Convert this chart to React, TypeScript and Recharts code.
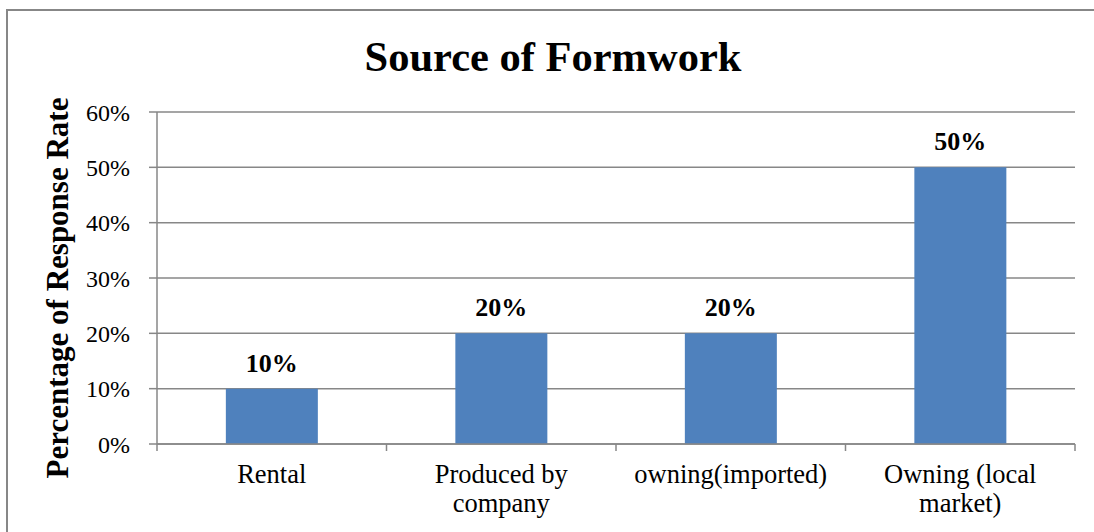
import React from "react";
import { BarChart, Bar, XAxis, YAxis, CartesianGrid, LabelList, Label } from "recharts";

const categories = ["Rental", "Produced by company", "owning(imported)", "Owning (local market)"];
const tickLines = [["Rental"], ["Produced by", "company"], ["owning(imported)"], ["Owning (local", "market)"]];
const responseRate = [10, 20, 20, 50];
const yTicks = [0, 10, 20, 30, 40, 50, 60];

const data = categories.map((c, i) => ({ name: c, value: responseRate[i] }));

const FONT = "'Liberation Serif', 'Times New Roman', serif";
const GRAY = "#878787";

const XTick = (props: any) => {
  const { x, y, payload, index } = props;
  const half = payload && payload.offset ? payload.offset : 114.75;
  const lines = tickLines[categories.indexOf(payload.value)] || [payload.value];
  return (
    <g>
      {index === 0 && <line x1={x - half} x2={x - half} y1={y} y2={y + 7} stroke={GRAY} strokeWidth={1.5} />}
      <line x1={x + half} x2={x + half} y1={y} y2={y + 7} stroke={GRAY} strokeWidth={1.5} />
      <text x={x} y={y} textAnchor="middle" fontFamily={FONT} fontSize={26.5} fill="#000">
        {lines.map((l: string, i: number) => (
          <tspan key={i} x={x} dy={i === 0 ? 39 : 29}>{l}</tspan>
        ))}
      </text>
    </g>
  );
};

const YLabel = (props: any) => {
  return (
    <text
      x={68}
      y={288}
      transform="rotate(-90, 68, 288)"
      textAnchor="middle"
      fontFamily={FONT}
      fontSize={31}
      fontWeight="bold"
      fill="#000"
    >
      Percentage of Response Rate
    </text>
  );
};

export default function App() {
  return (
    <div style={{ position: "absolute", left: 0, top: 0, width: 1094, height: 532, overflow: "hidden", background: "#fff" }}>
      <div style={{ position: "absolute", left: 6, top: 9, width: 1200, height: 700, borderLeft: `2px solid ${GRAY}`, borderTop: `2px solid ${GRAY}` }} />
      <div style={{ position: "absolute", left: 0, top: 0 }}>
        <BarChart width={1094} height={532} data={data} margin={{ top: 112, right: 19, bottom: 0, left: 0 }} barCategoryGap="30%">
          <text x={553} y={71} textAnchor="middle" fontFamily={FONT} fontSize={42.5} fontWeight="bold" fill="#000">
            Source of Formwork
          </text>
          <CartesianGrid vertical={false} stroke={GRAY} strokeWidth={1.5} />
          <XAxis
            dataKey="name"
            height={88}
            tickSize={0}
            tickMargin={0}
            tickLine={false}
            axisLine={{ stroke: GRAY, strokeWidth: 1.5 }}
            tick={<XTick />}
            interval={0}
          />
          <YAxis
            width={157}
            domain={[0, 60]}
            ticks={yTicks}
            interval={0}
            tickFormatter={(v: number) => `${v}%`}
            tickSize={8}
            tickMargin={19}
            tickLine={{ stroke: GRAY, strokeWidth: 1.5 }}
            axisLine={{ stroke: GRAY, strokeWidth: 1.5 }}
            tick={{ fontFamily: FONT, fontSize: 24, fill: "#000" }}
          >
            <Label content={<YLabel />} />
          </YAxis>
          <Bar dataKey="value" fill="#4f81bd" isAnimationActive={false}>
            <LabelList
              dataKey="value"
              position="top"
              offset={17}
              formatter={(v: any) => `${v}%`}
              style={{ fontFamily: FONT, fontSize: 26, fontWeight: "bold", fill: "#000" }}
            />
          </Bar>
        </BarChart>
      </div>
    </div>
  );
}
